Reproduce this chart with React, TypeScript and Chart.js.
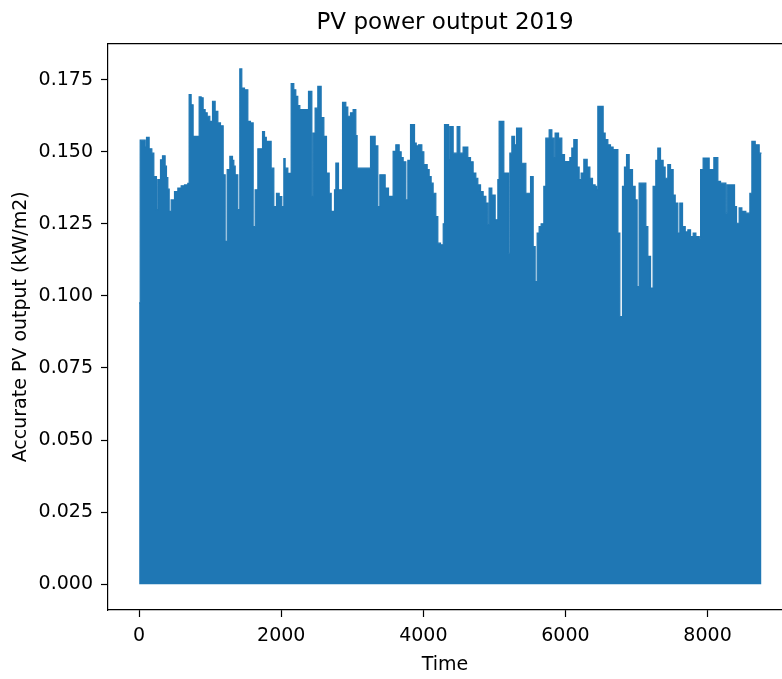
import React, { useEffect, useRef } from "react";
import { Chart, registerables } from "chart.js";

Chart.register(...registerables);

// Envelope of the hourly PV output: start hour of each plateau and its daily peak value (kW/m2)
const peakHours = [
  0, 15, 85, 104, 141, 179, 207, 244, 263, 301, 329, 366, 385, 404, 423, 451, 498, 545, 592, 639,
  685, 704, 732, 760, 845, 873, 901, 929, 958, 995, 1033, 1070, 1108, 1145, 1183, 1211, 1239, 1277, 1314, 1333,
  1352, 1389, 1417, 1445, 1483, 1530, 1567, 1605, 1633, 1671, 1737, 1765, 1790, 1858, 1896, 1933, 1971, 2008, 2037, 2055,
  2093, 2140, 2177, 2205, 2233, 2262, 2384, 2431, 2449, 2477, 2515, 2562, 2600, 2637, 2675, 2703, 2750, 2769, 2806, 2863,
  2909, 2937, 2975, 3012, 3050, 3068, 3257, 3322, 3360, 3388, 3463, 3510, 3575, 3613, 3660, 3688, 3716, 3754, 3782, 3820,
  3876, 3900, 3932, 3979, 4007, 4054, 4082, 4110, 4138, 4176, 4204, 4242, 4280, 4298, 4355, 4373, 4420, 4476, 4514, 4560,
  4626, 4664, 4701, 4739, 4767, 4805, 4842, 4880, 4908, 4926, 4964, 5011, 5049, 5067, 5133, 5199, 5218, 5246, 5284, 5312,
  5383, 5443, 5509, 5546, 5574, 5602, 5630, 5658, 5696, 5724, 5771, 5809, 5837, 5855, 5903, 5949, 5987, 6062, 6090, 6118,
  6165, 6193, 6221, 6259, 6306, 6344, 6381, 6418, 6437, 6456, 6531, 6559, 6597, 6634, 6671, 6738, 6766, 6803, 6831, 6860,
  6897, 6944, 6981, 7009, 7037, 7132, 7160, 7198, 7234, 7272, 7300, 7338, 7375, 7403, 7441, 7479, 7516, 7545, 7582, 7610,
  7648, 7686, 7723, 7761, 7798, 7836, 7883, 7902, 7938, 8023, 8089, 8145, 8183, 8258, 8276, 8380, 8408, 8445, 8483, 8539,
  8596, 8624, 8671, 8727, 8759,
];

const peakValues = [
  0.0976, 0.154, 0.1516, 0.155, 0.151, 0.1495, 0.1414, 0.1299, 0.1403, 0.1472, 0.1486, 0.145, 0.141, 0.137, 0.1293, 0.1333, 0.1362, 0.1374, 0.1382, 0.1385,
  0.139, 0.1698, 0.1663, 0.1553, 0.169, 0.1687, 0.1646, 0.1635, 0.1623, 0.1605, 0.1675, 0.164, 0.16, 0.159, 0.142, 0.1189, 0.1438, 0.1484, 0.147, 0.145,
  0.142, 0.1299, 0.1787, 0.1721, 0.1715, 0.1605, 0.16, 0.124, 0.1368, 0.151, 0.157, 0.155, 0.1536, 0.1443, 0.131, 0.1356, 0.1344, 0.131, 0.1476, 0.1443,
  0.1425, 0.1736, 0.1715, 0.1692, 0.166, 0.1646, 0.1709, 0.1345, 0.1565, 0.1651, 0.1727, 0.1618, 0.1553, 0.1426, 0.1356, 0.1293, 0.1368, 0.1461, 0.1368, 0.1671,
  0.1655, 0.1623, 0.1635, 0.1646, 0.1556, 0.1443, 0.1553, 0.152, 0.131, 0.142, 0.1374, 0.1345, 0.1501, 0.1524, 0.15, 0.148, 0.1465, 0.1333, 0.147, 0.1594,
  0.153, 0.152, 0.1524, 0.15, 0.1455, 0.1438, 0.1414, 0.1391, 0.1356, 0.1275, 0.1183, 0.1177, 0.125, 0.1594, 0.1472, 0.1587, 0.1495, 0.1587, 0.1495, 0.1516,
  0.148, 0.1465, 0.1426, 0.1408, 0.1385, 0.1362, 0.1345, 0.1322, 0.1247, 0.1374, 0.135, 0.1264, 0.1403, 0.1605, 0.1426, 0.1148, 0.1495, 0.1553, 0.1524, 0.1582,
  0.146, 0.1356, 0.1414, 0.1171, 0.105, 0.1218, 0.124, 0.125, 0.138, 0.1547, 0.1576, 0.1547, 0.148, 0.1565, 0.1547, 0.149, 0.1466, 0.148, 0.1513, 0.1542,
  0.1447, 0.1403, 0.1426, 0.1474, 0.1447, 0.1408, 0.1385, 0.138, 0.1368, 0.1657, 0.1565, 0.1542, 0.1524, 0.1516, 0.1507, 0.1218, 0.0928, 0.138, 0.1447, 0.149,
  0.1438, 0.138, 0.1333, 0.1032, 0.1391, 0.124, 0.1137, 0.1027, 0.138, 0.147, 0.1513, 0.147, 0.1447, 0.1408, 0.1455, 0.1438, 0.135, 0.1322, 0.1218, 0.1322,
  0.124, 0.1222, 0.1229, 0.1206, 0.1218, 0.1206, 0.12, 0.1438, 0.1478, 0.1438, 0.148, 0.1397, 0.1391, 0.1287, 0.1385, 0.131, 0.1252, 0.1305, 0.1293, 0.1287,
  0.1356, 0.1536, 0.1524, 0.1495, 0.1495,
];

const xTickValues = [0, 2000, 4000, 6000, 8000];
const yTickValues = [0, 0.025, 0.05, 0.075, 0.1, 0.125, 0.15, 0.175];

const chartTitle = "PV power output 2019";
const xAxisTitle = "Time";
const yAxisTitle = "Accurate PV output (kW/m2)";

const FONT = "'DejaVu Sans', sans-serif";
const BLUE = "#1f77b4";

export default function App() {
  const canvasRef = useRef<HTMLCanvasElement | null>(null);

  useEffect(() => {
    const canvas = canvasRef.current;
    if (!canvas) return;

    const topSpine = {
      id: "topSpine",
      afterDraw(chart: any) {
        const { ctx, chartArea } = chart;
        ctx.save();
        ctx.strokeStyle = "#000";
        ctx.lineWidth = 1.2;
        ctx.beginPath();
        ctx.moveTo(chartArea.left - 0.6, chartArea.top);
        ctx.lineTo(chartArea.right, chartArea.top);
        ctx.stroke();
        ctx.restore();
      },
    };

    const chart = new Chart(canvas, {
      type: "line",
      data: {
        datasets: [
          {
            data: peakHours.map((h, i) => ({ x: h, y: peakValues[i] })),
            borderColor: BLUE,
            backgroundColor: BLUE,
            borderWidth: 1.2,
            fill: "origin",
            stepped: true,
            pointRadius: 0,
            pointHoverRadius: 0,
          },
        ],
      },
      options: {
        animation: false,
        responsive: false,
        devicePixelRatio: 1,
        layout: { padding: 0 },
        font: { family: FONT },
        plugins: {
          legend: { display: false },
          tooltip: { enabled: false },
          title: {
            display: true,
            text: chartTitle,
            fullSize: false,
            color: "#000",
            font: { family: FONT, size: 23, weight: "normal" },
            padding: { top: 9, bottom: 7 },
          },
        },
        scales: {
          x: {
            type: "linear",
            min: -438,
            max: 9048,
            afterBuildTicks: (scale: any) => {
              scale.ticks = xTickValues.map((v) => ({ value: v }));
            },
            afterFit: (scale: any) => {
              scale.height = 69;
            },
            ticks: {
              color: "#000",
              font: { family: FONT, size: 19 },
              padding: 8,
              maxRotation: 0,
              autoSkip: false,
              callback: (v: any) => String(v),
            },
            grid: {
              display: true,
              drawOnChartArea: false,
              drawTicks: true,
              tickLength: 7,
              tickColor: "#000",
              tickWidth: 1.2,
            },
            border: { display: true, color: "#000", width: 1.2 },
            title: {
              display: true,
              text: xAxisTitle,
              color: "#000",
              font: { family: FONT, size: 19 },
              padding: { top: 0, bottom: 3 },
            },
          },
          y: {
            type: "linear",
            min: -0.00893,
            max: 0.1875,
            afterBuildTicks: (scale: any) => {
              scale.ticks = yTickValues.map((v) => ({ value: v }));
            },
            afterFit: (scale: any) => {
              scale.width = 108;
            },
            ticks: {
              color: "#000",
              font: { family: FONT, size: 19 },
              padding: 8,
              autoSkip: false,
              callback: (v: any) => Number(v).toFixed(3),
            },
            grid: {
              display: true,
              drawOnChartArea: false,
              drawTicks: true,
              tickLength: 7,
              tickColor: "#000",
              tickWidth: 1.2,
            },
            border: { display: true, color: "#000", width: 1.2 },
            title: {
              display: true,
              text: yAxisTitle,
              color: "#000",
              font: { family: FONT, size: 19 },
              padding: { top: 10, bottom: 0 },
            },
          },
        },
      },
      plugins: [topSpine],
    });

    return () => {
      chart.destroy();
    };
  }, []);

  return (
    <div
      style={{
        position: "absolute",
        left: 0,
        top: 0,
        width: 782,
        height: 679,
        background: "#fff",
        overflow: "hidden",
      }}
    >
      <canvas ref={canvasRef} width={782} height={679} style={{ display: "block" }} />
    </div>
  );
}
